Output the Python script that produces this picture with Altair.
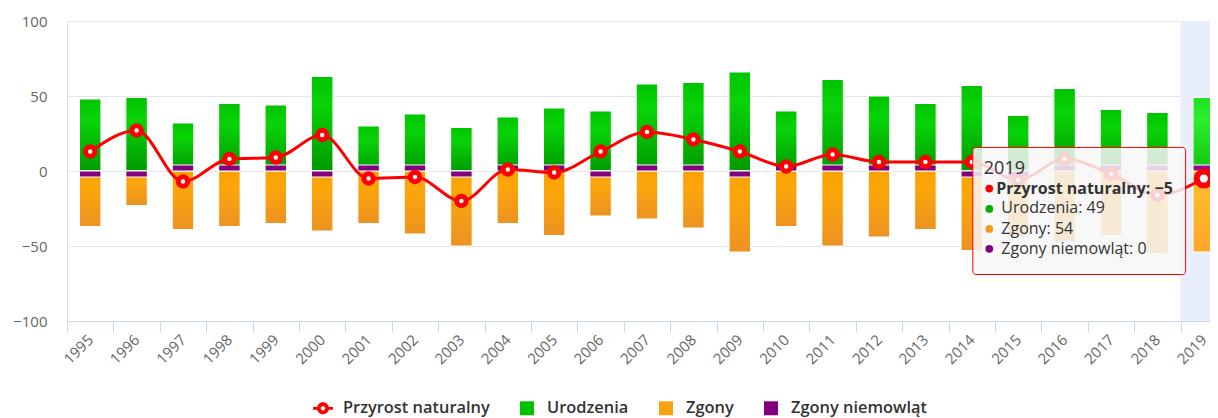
import altair as alt
import numpy as np
import pandas as pd

# ---------------- data ----------------
years = [str(y) for y in range(1995, 2020)]
births = [48, 49, 32, 45, 44, 63, 30, 38, 29, 36, 42, 40, 58, 59, 66, 40, 61, 50, 45, 57, 37, 55, 41, 39, 49]
net = [13, 27, -7, 8, 9, 24, -5, -4, -20, 1, -1, 13, 26, 21, 13, 3, 11, 6, 6, 6, -6, 8, -2, -16, -5]
deaths = [35, 22, 39, 37, 35, 39, 35, 42, 49, 35, 43, 27, 32, 38, 53, 37, 50, 44, 39, 51, 43, 47, 43, 55, 54]
infant = [2, 1, 0, 0, 0, 1, 0, 0, 1, 0, 0, 3, 0, 0, 1, 0, 0, 0, 0, 2, 1, 0, 0, 0, 0]

series = ["Przyrost naturalny", "Urodzenia", "Zgony", "Zgony niemowląt"]
colors = ["#ff0000", "#00c000", "#f9a20d", "#800080"]
y_ticks = [-100, -50, 0, 50, 100]
hover_year = "2019"
MIN_BAR = 4  # minimum drawn length of the small purple bars (value units)

FONT = "Open Sans"

df = pd.DataFrame({"year": years, "births": births, "net": net,
                   "deaths": deaths, "infant": infant})
df["zero"] = 0
df["deaths_end"] = -(df["deaths"] + df["infant"])
df["infant_end"] = np.where(df["infant"] > 0, -np.maximum(df["infant"], MIN_BAR), MIN_BAR)

# ---------------- scales / axes ----------------
# the original plot area runs a little past the right edge of the picture
x_scale = alt.Scale(domain=years, paddingInner=0, paddingOuter=0, range=[0, 1160])
x_axis = alt.Axis(title=None, labelAngle=-45, labelAlign="right", labelBaseline="middle",
                  labelFontSize=15, labelColor="#666666", labelFont=FONT,
                  tickBand="extent", tickSize=11, tickColor="#ccd6eb", tickWidth=1,
                  domainColor="#ccd6eb", domainWidth=1, grid=False, labelPadding=5,
                  zindex=1)
y_scale = alt.Scale(domain=[-100, 100], nice=False, zero=False)
y_axis = alt.Axis(title=None, values=y_ticks, grid=True, gridColor="#e6e6e6",
                  domain=False, ticks=False, labelFontSize=15, labelColor="#666666",
                  labelFont=FONT, labelPadding=20)


def X(field="year"):
    return alt.X(f"{field}:N", scale=x_scale, axis=x_axis)


def Y(field):
    return alt.Y(f"{field}:Q", scale=y_scale, axis=y_axis)


def grad(c0, c1, c2):
    return alt.LinearGradient(
        gradient="linear",
        stops=[alt.GradientStop(offset=0, color=c0),
               alt.GradientStop(offset=0.3, color=c1),
               alt.GradientStop(offset=1, color=c2)],
        x1=0, x2=0, y1=0, y2=1)


green = grad("#00c400", "#08d408", "#009a00")
green_h = grad("#1ee21e", "#2cee2c", "#12c412")
orange = grad("#f9a200", "#fca60a", "#ec9222")
orange_h = grad("#ffb52a", "#ffb82c", "#fca72a")

base = alt.Chart(df)
not_hover = alt.datum.year != hover_year
is_hover = alt.datum.year == hover_year
BW = alt.RelativeBandSize(0.463)

band = base.transform_filter(is_hover).mark_rect(color="#e8effa").encode(
    x=X(), y=alt.Y(datum=100, scale=y_scale, axis=y_axis), y2=alt.Y2(datum=-100))


def bars(fill, y2, flt):
    return base.transform_filter(flt).mark_bar(
        fill=fill, stroke="white", strokeWidth=1, width=BW).encode(
        x=X(), y=Y("zero"), y2=alt.Y2(f"{y2}:Q"))


g1 = bars(green, "births", not_hover)
g2 = bars(green_h, "births", is_hover)
o1 = bars(orange, "deaths_end", not_hover)
o2 = bars(orange_h, "deaths_end", is_hover)
p1 = bars("#800080", "infant_end", not_hover)
p2 = bars("#8e108e", "infant_end", is_hover)

line = base.mark_line(color="#ff0000", strokeWidth=3, interpolate="monotone").encode(
    x=X(), y=Y("net"))
pts = base.transform_filter(not_hover).mark_point(
    shape="circle", filled=True, fill="white", stroke="#ff0000", strokeWidth=5,
    size=90, opacity=1, fillOpacity=1, strokeOpacity=1).encode(x=X(), y=Y("net"))
pt_h = base.transform_filter(is_hover).mark_point(
    shape="circle", filled=True, fill="white", stroke="#ff0000", strokeWidth=6,
    size=200, opacity=1, fillOpacity=1, strokeOpacity=1).encode(x=X(), y=Y("net"))

# ---------------- tooltip annotation (hover on 2019) ----------------
h = years.index(hover_year)


def fmt(v):
    return str(v).replace("-", "\u2212")


tip_box = pd.DataFrame({"x1": ["2014"], "x2": [hover_year], "top": [15.7], "bottom": [-69]})
tip_rect = alt.Chart(tip_box).mark_rect(
    fill="#f7f7f7", fillOpacity=0.85, stroke="#ff0000", strokeWidth=1,
    cornerRadius=3, xOffset=1, x2Offset=5).encode(
    x=alt.X("x1:N", scale=x_scale, axis=x_axis, bandPosition=0.5),
    x2=alt.X2("x2:N", bandPosition=0),
    y=Y("top"), y2=alt.Y2("bottom:Q"))

tip_head = pd.DataFrame({"x1": ["2014"], "y": [-2.3], "label": [hover_year]})
tip_bold = pd.DataFrame({"x1": ["2014"], "y": [-15.0],
                         "label": [f"{series[0]}: {fmt(net[h])}"]})
tip_norm = pd.DataFrame({"x1": ["2014"] * 3, "y": [-28.3, -41.7, -55.0],
                         "label": [f"{series[1]}: {births[h]}",
                                   f"{series[2]}: {deaths[h]}",
                                   f"{series[3]}: {infant[h]}"]})
tip_dots = pd.DataFrame({"x1": ["2014"] * 4, "y": [-11.7, -25.3, -38.6, -51.9],
                         "c": ["#ff0000", "#00b000", "#f39a1d", "#800080"]})

XT = alt.X("x1:N", scale=x_scale, axis=x_axis, bandPosition=0.5)
t_head = alt.Chart(tip_head).mark_text(
    align="left", baseline="alphabetic", fontSize=18, font=FONT, color="#333333",
    dx=12).encode(x=XT, y=Y("y"), text="label:N")
t_bold = alt.Chart(tip_bold).mark_text(
    align="left", baseline="alphabetic", fontSize=16, font=FONT, fontWeight="bold",
    color="#333333", dx=24.5).encode(x=XT, y=Y("y"), text="label:N")
t_norm = alt.Chart(tip_norm).mark_text(
    align="left", baseline="alphabetic", fontSize=16, font=FONT, color="#333333",
    dx=29.5).encode(x=XT, y=Y("y"), text="label:N")
t_dots = alt.Chart(tip_dots).mark_circle(size=60, opacity=1, xOffset=17.5).encode(
    x=XT, y=Y("y"), color=alt.Color("c:N", scale=None))

# ---------------- legend (dummy invisible points) ----------------
ring = ("M0.6,0 A0.6,0.6 0 1,1 -0.6,0 A0.6,0.6 0 1,1 0.6,0 Z "
        "M0.22,0 A0.22,0.22 0 1,0 -0.22,0 A0.22,0.22 0 1,0 0.22,0 Z "
        "M-1,-0.14 L-0.57,-0.14 L-0.57,0.14 L-1,0.14 Z "
        "M0.57,-0.14 L1,-0.14 L1,0.14 L0.57,0.14 Z")
square = "M-0.7,-0.7 L0.7,-0.7 L0.7,0.7 L-0.7,0.7 Z"
shapes = [ring, square, square, square]


def leg():
    return alt.Legend(title=None, orient="none", legendX=246, legendY=377,
                      direction="horizontal", symbolSize=400, symbolStrokeWidth=0,
                      symbolOpacity=1, labelFont=FONT, labelFontSize=16.4,
                      labelFontWeight=600, labelColor="#333333", labelOffset=10,
                      columnPadding=27, padding=0)


leg_df = pd.DataFrame({"series": series, "year": [years[0]] * 4, "v": [0] * 4})
legend = alt.Chart(leg_df).mark_point(filled=True, opacity=0).encode(
    x=X(), y=Y("v"),
    color=alt.Color("series:N", scale=alt.Scale(domain=series, range=colors), legend=leg()),
    shape=alt.Shape("series:N", scale=alt.Scale(domain=series, range=shapes), legend=leg()))

chart = alt.layer(
    band, g1, g2, o1, o2, p1, p2, line, pts, pt_h,
    tip_rect, t_dots, t_head, t_bold, t_norm, legend
).properties(
    width=1143, height=300,
    autosize=alt.AutoSizeParams(type="none"),
    padding={"left": 59, "top": 13, "right": 0, "bottom": 100},
).configure_view(stroke=None).configure(background="white")

chart.save("out.html", embed_options={"renderer": "svg", "actions": False})
